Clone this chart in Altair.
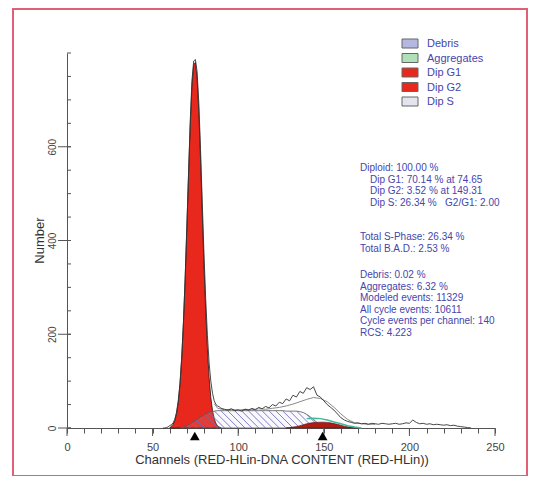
import altair as alt
import pandas as pd
import numpy as np

# ---------------- data ----------------
# G1 peak (model component), counts per channel
g1_ch = list(range(60, 91))
g1_val = [0, 4, 8, 16, 31, 55, 93, 149, 223, 317, 426, 540, 647, 731, 775, 780,
          745, 675, 573, 460, 348, 250, 169, 108, 65, 37, 20, 10, 4, 2, 0]

# S-phase component
s_ch = list(range(66, 158, 2))
s_val = [0, 2, 5, 9, 14, 19, 24, 28, 32, 35, 36, 37,
         37, 37, 37, 37, 37, 37, 37, 37, 37, 37, 37, 37, 37, 37, 37, 37, 37, 37, 37,
         36, 36, 36, 36, 35, 33, 29, 24, 18, 12, 8, 4, 2, 1, 0]

# G2 peak
g2_ch = list(range(128, 172, 2))
g2_val = [0, 1, 2, 3, 5, 7, 9, 10.5, 11.5, 12, 12.5, 12.5, 12, 11, 9.5, 8, 6, 4,
          2.5, 1.5, 0.5, 0]

# Aggregates (thin band above G2)
agg_ch = [140, 144, 148, 152, 156, 160, 164, 168, 172]
agg_val = [20, 21, 20, 17, 13, 9, 5, 2, 0]

# Measured histogram
data_ch = list(range(56, 90)) + list(range(90, 238, 2))
data_val = [0, 0, 1, 2, 5, 7, 11, 19, 34, 58, 95, 150, 224, 318, 428, 545, 655,
            742, 783, 786, 760, 693, 594, 482, 372, 276, 198, 139, 100, 74, 58,
            50, 47, 45,
            42, 40, 38, 41, 37, 39, 36, 40, 38, 42, 39, 44, 41, 46, 43, 50, 47,
            55, 52, 62, 58, 70, 66, 78, 74, 86, 82, 88, 70, 66, 58, 50, 44, 38,
            30, 22, 17, 14, 12, 10, 11, 9, 10, 8, 10, 9, 8, 10, 9, 8, 9, 10, 8,
            9, 11, 10, 17, 12, 9, 10, 8, 9, 7, 8, 7, 6, 7, 5, 6, 4, 3, 2, 1, 0]

# Second (smoother) trace
fit_ch = [86, 88, 92, 96, 100, 104, 108, 112, 116, 120, 124, 128, 132, 136,
          140, 144, 148, 152, 156, 160, 164, 168, 172, 176, 180]
fit_val = [52, 42, 39, 40, 38, 40, 39, 41, 40, 42, 44, 47, 51, 56, 61, 65, 63,
           56, 44, 30, 18, 11, 9, 8, 8]

peak_pos = [74.65, 149.31]

x_ticks = list(range(0, 251, 10))
x_major = [0, 50, 100, 150, 200, 250]
y_ticks = list(range(0, 801, 50))
y_major = [0, 200, 400, 600]

legend_labels = ["Debris", "Aggregates", "Dip G1", "Dip G2", "Dip S"]
legend_colors = ["#b4b8e0", "#b0e0b8", "#e8281c", "#e8281c", "#e4e4ee"]

stats_block1 = ["Diploid: 100.00 %", "Dip G1: 70.14 % at 74.65",
                "Dip G2: 3.52 % at 149.31",
                "Dip S: 26.34 %\u00a0\u00a0\u00a0G2/G1: 2.00"]
stats_block2 = ["Total S-Phase: 26.34 %", "Total B.A.D.: 2.53 %"]
stats_block3 = ["Debris: 0.02 %", "Aggregates: 6.32 %", "Modeled events: 11329",
                "All cycle events: 10611", "Cycle events per channel: 140",
                "RCS: 4.223"]

x_title = "Channels (RED-HLin-DNA CONTENT (RED-HLin))"
y_title = "Number"

# ---------------- layout ----------------
W, H = 428, 375
XMAX, YMAX = 250, 800
FONT = "Liberation Sans"
BLUE = "#4545ad"
AX = "#555555"

xs = alt.Scale(domain=[0, XMAX], nice=False, zero=False)
ys = alt.Scale(domain=[0, YMAX], nice=False)

x_axis = alt.Axis(
    values=x_ticks, title=None, grid=False, tickSize=5, tickColor=AX,
    domainColor=AX, labelColor="#444", labelFontSize=11, labelFont=FONT,
    labelPadding=8, labelOverlap=False, labelFlush=False,
    labelExpr="datum.value % 50 == 0 ? datum.label : ''")
y_axis = alt.Axis(
    values=y_major, title=None, grid=False, ticks=False, tickSize=0,
    domainColor=AX, labelColor="#444", labelFontSize=10, labelFont=FONT,
    labelAngle=-90, labelAlign="center", labelBaseline="bottom",
    labelPadding=10)


def X(f):
    return alt.X(f, type="quantitative", scale=xs, axis=x_axis)


def Y(f):
    return alt.Y(f, type="quantitative", scale=ys, axis=y_axis)


g1_df = pd.DataFrame({"ch": g1_ch, "v": g1_val})
s_df = pd.DataFrame({"ch": s_ch, "v": s_val})
g2_df = pd.DataFrame({"ch": g2_ch, "v": g2_val})
agg_df = pd.DataFrame({"ch": agg_ch, "v": agg_val})
data_df = pd.DataFrame({"ch": data_ch, "v": data_val})
fit_df = pd.DataFrame({"ch": fit_ch, "v": fit_val})

# hatch lines for the S-phase region (45 degree in screen space)
k = (H / YMAX) / (W / XMAX)  # channels per count
hatch = []
for c in np.arange(68.0, 158.0, 4.0):
    t = 0.0
    while t < 80:
        xx = c - t * k
        if t >= np.interp(xx, s_ch, s_val):
            break
        t += 0.25
    if t > 0.5:
        hatch.append({"ch": c, "v": 0.0, "x2": c - t * k, "y2": t})
hatch_df = pd.DataFrame(hatch)

layers = []

# G1 red area
layers.append(alt.Chart(g1_df).mark_area(color="#e8281c", stroke="#2a1010",
                                         strokeWidth=0.8).encode(x=X("ch"), y=Y("v")))
# S-phase outline
layers.append(alt.Chart(s_df).mark_area(fillOpacity=0.12, fill="#c8c8f0", stroke="#555",
                                        strokeWidth=0.8).encode(x=X("ch"), y=Y("v")))
# hatch
layers.append(alt.Chart(hatch_df).mark_rule(color="#6a6ac0", strokeWidth=1, opacity=0.85).encode(
    x=X("ch"), y=Y("v"), x2="x2:Q", y2="y2:Q"))
# G2
layers.append(alt.Chart(g2_df).mark_area(color="#b01c14", stroke="#501010",
                                         strokeWidth=0.6).encode(x=X("ch"), y=Y("v")))
# aggregates
layers.append(alt.Chart(agg_df).mark_line(color="#40b8a0", strokeWidth=1.5).encode(
    x=X("ch"), y=Y("v")))
# smoother trace
layers.append(alt.Chart(fit_df).mark_line(color="#8a8a8a", strokeWidth=1).encode(
    x=X("ch"), y=Y("v")))
# measured trace
layers.append(alt.Chart(data_df).mark_line(color="#333333", strokeWidth=0.9).encode(
    x=X("ch"), y=Y("v")))

# y ticks (inside) and major ticks
layers.append(alt.Chart(pd.DataFrame({"v": y_ticks})).mark_rule(color=AX).encode(
    y=Y("v"), x=alt.value(0), x2=alt.value(4)))
layers.append(alt.Chart(pd.DataFrame({"v": y_major})).mark_rule(color=AX).encode(
    y=Y("v"), x=alt.value(-9), x2=alt.value(4)))
# x major ticks longer
layers.append(alt.Chart(pd.DataFrame({"ch": x_major})).mark_rule(color=AX).encode(
    x=X("ch"), y=alt.value(H), y2=alt.value(H + 8)))

# peak markers
layers.append(alt.Chart(pd.DataFrame({"ch": peak_pos})).mark_point(
    shape="triangle-up", filled=True, color="black", size=95, opacity=1).encode(
    x=X("ch"), y=alt.value(H + 8)))

# axis titles
layers.append(alt.Chart(pd.DataFrame({"t": [x_title]})).mark_text(
    font=FONT, fontSize=13, color="#333").encode(
    text="t:N", x=alt.value(W / 2 + 1), y=alt.value(H + 32)))
layers.append(alt.Chart(pd.DataFrame({"t": [y_title]})).mark_text(
    font=FONT, fontSize=13, color="#333", angle=270).encode(
    text="t:N", x=alt.value(-27), y=alt.value(H / 2)))

# legend
for i, (lab, col) in enumerate(zip(legend_labels, legend_colors)):
    yc = -9.5 + i * 14.5
    one = pd.DataFrame({"t": [lab]})
    layers.append(alt.Chart(one).mark_rect(fill=col, stroke="#666", strokeWidth=1).encode(
        x=alt.value(335), x2=alt.value(351), y=alt.value(yc - 4.5), y2=alt.value(yc + 4.5)))
    layers.append(alt.Chart(one).mark_text(font=FONT, fontSize=11, color=BLUE,
                                           align="left", baseline="middle").encode(
        text="t:N", x=alt.value(360), y=alt.value(yc + 0.5)))

# stats text
LH = 11.6
for block, y0 in ((stats_block1, 168 - 53), (stats_block2, 237 - 53), (stats_block3, 275 - 53)):
    for j, line in enumerate(block):
        indent = 10 if (block is stats_block1 and j > 0) else 0
        layers.append(alt.Chart(pd.DataFrame({"t": [line]})).mark_text(
            font=FONT, fontSize=10, color=BLUE, align="left", baseline="middle").encode(
            text="t:N", x=alt.value(293 + indent), y=alt.value(y0 + j * LH)))

# red frame
layers.append(alt.Chart(pd.DataFrame({"a": [0]})).mark_rect(
    fillOpacity=0, stroke="#e06078", strokeWidth=2).encode(
    x=alt.value(-54), x2=alt.value(460), y=alt.value(-44), y2=alt.value(423)))

chart = alt.layer(*layers).properties(
    width=W, height=H,
    autosize=alt.AutoSizeParams(type="none"),
    padding={"left": 59, "top": 45, "right": 33, "bottom": 48},
    background="white",
).configure_view(stroke=None)

chart.save("out.html", embed_options={"renderer": "svg", "actions": False})
